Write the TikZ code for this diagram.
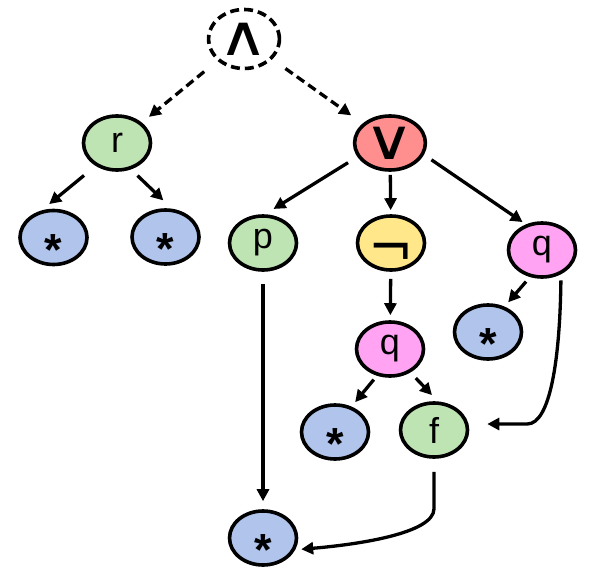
\documentclass[tikz,border=0pt]{standalone}
\usepackage{fontspec}
\setmainfont{Liberation Sans}
\newfontfamily\symfont{DejaVu Sans}
\usetikzlibrary{arrows.meta,shapes.geometric}
\definecolor{cgreen}{RGB}{191,228,180}
\definecolor{cblue}{RGB}{176,196,236}
\definecolor{cred}{RGB}{255,143,143}
\definecolor{cyellow}{RGB}{255,231,138}
\definecolor{cpink}{RGB}{255,163,242}
\newcommand{\starlbl}{\raisebox{-27.5pt}[0pt][0pt]{\scalebox{1.25}{\bfseries *}}}
\newcommand{\neglbl}{\raisebox{-24pt}[0pt][0pt]{\makebox[0pt]{\scalebox{1.5}[1.6]{\symfont ¬}}}}
\begin{document}
\begin{tikzpicture}[x=1pt,y=-1pt,
  nd/.style={ellipse, draw=black, line width=3.6pt, minimum width=67pt, minimum height=54pt,
    inner sep=0pt, font=\fontsize{36}{40}\selectfont},
  gnode/.style={nd, fill=cgreen},
  bnode/.style={nd, fill=cblue},
  rnode/.style={nd, fill=cred},
  ynode/.style={nd, fill=cyellow},
  pnode/.style={nd, fill=cpink},
  rootnode/.style={nd, fill=white, dash pattern=on 9pt off 5pt, minimum width=69pt, minimum height=59pt},
  arr/.style={line width=3.3pt, -{Triangle[length=12pt,width=12pt]}},
  darr/.style={arr, dash pattern=on 9pt off 5pt}
]
\useasboundingbox (0,0) rectangle (599,575);

\node[rootnode] (root) at (244,39) {\scalebox{1.9}[1.55]{\symfont ∧}};
\node[gnode] (r) at (117,143) {r};
\node[rnode] (vee) at (390,143) {\raisebox{-3pt}{\scalebox{1.9}[1.55]{\symfont ∨}}};
\node[bnode] (s1) at (53.5,237.5) {\starlbl};
\node[bnode] (s2) at (165.5,237) {\starlbl};
\node[gnode] (p) at (263,243) {p};
\node[ynode] (neg) at (391,243) {\neglbl};
\node[pnode] (q1) at (542,250) {q};
\node[bnode] (s3) at (488,332) {\starlbl};
\node[pnode] (q2) at (390,349) {q};
\node[bnode] (s4) at (335,432) {\starlbl};
\node[gnode] (f) at (434,430) {f};
\node[bnode] (sb) at (263,538) {\starlbl};

\draw[darr, shorten <=17pt, shorten >=9pt] (root) -- (r);
\draw[darr, shorten <=16pt, shorten >=14pt] (root) -- (vee);
\draw[arr, shorten <=15pt, shorten >=10pt] (r.227) -- (s1.114);
\draw[arr, shorten <=9pt, shorten >=12pt] (r.298) -- (s2.77);
\draw[arr, shorten <=11pt, shorten >=10pt] (vee.203.5) -- (p.86);
\draw[arr, shorten <=3pt, shorten >=4pt] (vee) -- (neg);
\draw[arr, shorten <=9pt, shorten >=4pt] (vee.341.5) -- (q1.122.8);
\draw[arr, shorten <=7pt, shorten >=5pt] (neg) -- (q2);
\draw[arr, shorten <=6pt, shorten >=5.6pt] (q1.246.6) -- (s3.57.9);
\draw[arr, shorten <=5pt, shorten >=5.7pt] (q2.244.7) -- (s4.57.4);
\draw[arr, shorten <=7.7pt, shorten >=8.7pt] (q2.311) -- (f.82);
\draw[arr, shorten <=12pt, shorten >=8pt] (p) -- (sb);
\draw[arr, shorten <=6pt, shorten >=18pt] (q1.-52) .. controls +(-1,84) and +(23,0) .. ([xshift=58pt,yshift=6pt]f.east) -- ([yshift=6pt]f.east);
\draw[arr, shorten <=13pt, shorten >=6pt] (f.south) -- ++(0,50) .. controls +(0,25) and +(60,-5) .. (sb.-20);
\end{tikzpicture}
\end{document}
